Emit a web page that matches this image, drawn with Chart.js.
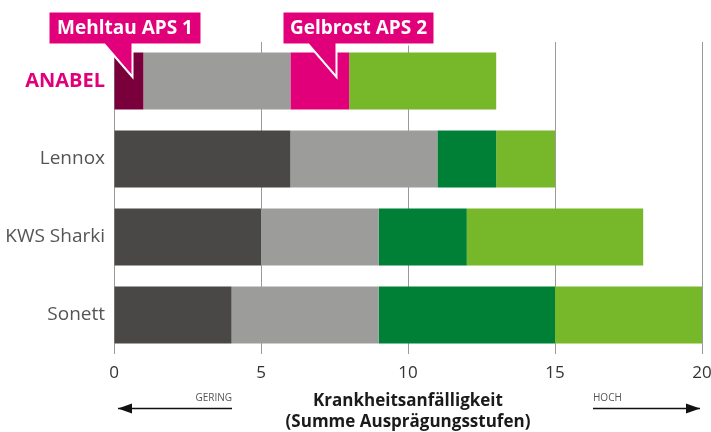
<!DOCTYPE html>
<html>
<head>
<meta charset="utf-8">
<script src="https://cdn.jsdelivr.net/npm/chart.js@4"></script>
<style>
  html, body { margin: 0; padding: 0; background: #fff; }
  #wrap { width: 711px; height: 432px; }
</style>
</head>
<body>
<div id="wrap"><canvas id="chart" width="711" height="432"></canvas></div>
<script>
// Sorten und Ausprägungsstufen je Krankheit
const sorten = ["ANABEL", "Lennox", "KWS Sharki", "Sonett"];
const mehltau = [1, 6, 5, 4];
const septoria = [5, 5, 4, 5];
const gelbrost = [2, 2, 3, 6];
const braunrost = [5, 2, 6, 5];
const xTicks = [0, 5, 10, 15, 20];

const MAGENTA = "#e2007a";
const DARK_MAGENTA = "#7a003c";
const DARK_GRAY = "#494846";
const LIGHT_GRAY = "#9c9d9b";
const DARK_GREEN = "#007f36";
const LIGHT_GREEN = "#77b82a";

// Hinweis-Kästchen über der ANABEL-Zeile
const callouts = [
    { text: "Mehltau APS 1", value: 0.6, left: 84, right: 69 },
    { text: "Gelbrost APS 2", value: 7.55, left: 54, right: 98 }
];

const calloutPlugin = {
    id: "callouts",
    afterDatasetsDraw(chart) {
        const ctx = chart.ctx;
        const x = chart.scales.x;
        const bar = chart.getDatasetMeta(0).data[0];
        const barTop = bar.y - bar.height / 2;
        callouts.forEach(c => {
            const tipX = Math.round(x.getPixelForValue(c.value)) + 0.5;
            const tipY = bar.y - 4;
            const bx = tipX - c.left, bw = c.left + c.right;
            const by = barTop - 41, bb = barTop - 8;
            ctx.save();
            ctx.beginPath();
            ctx.moveTo(bx, by);
            ctx.lineTo(bx + bw, by);
            ctx.lineTo(bx + bw, bb);
            ctx.lineTo(tipX, bb);
            ctx.lineTo(tipX, tipY);
            ctx.lineTo(tipX - 28, bb);
            ctx.lineTo(bx, bb);
            ctx.closePath();
            ctx.fillStyle = MAGENTA;
            ctx.fill();
            ctx.strokeStyle = "#fff";
            ctx.lineWidth = 2;
            ctx.stroke();
            ctx.fillStyle = "#fff";
            ctx.font = "bold 19px 'Open Sans'";
            ctx.textAlign = "center";
            ctx.textBaseline = "middle";
            ctx.fillText(c.text, bx + bw / 2, (by + bb) / 2 + 1);
            ctx.restore();
        });
    }
};

// Pfeile GERING / HOCH unter der Achse
const arrowPlugin = {
    id: "arrows",
    afterDraw(chart) {
        const ctx = chart.ctx;
        const a = chart.chartArea;
        const y = 408.5;
        ctx.save();
        ctx.strokeStyle = "#111";
        ctx.fillStyle = "#111";
        ctx.lineWidth = 1.5;
        function arrow(x1, x2, dir) {
            ctx.beginPath();
            ctx.moveTo(x1, y);
            ctx.lineTo(x2, y);
            ctx.stroke();
            const tip = dir < 0 ? x1 : x2;
            ctx.beginPath();
            ctx.moveTo(tip, y);
            ctx.lineTo(tip - dir * 14, y - 5);
            ctx.lineTo(tip - dir * 14, y + 5);
            ctx.closePath();
            ctx.fill();
        }
        arrow(a.left + 4, a.left + 118, -1);
        arrow(a.right - 109, a.right - 2, 1);
        ctx.fillStyle = "#555";
        ctx.font = "10px 'Open Sans'";
        ctx.textBaseline = "alphabetic";
        ctx.textAlign = "right";
        ctx.fillText("GERING", a.left + 118, 401);
        ctx.textAlign = "left";
        ctx.fillText("HOCH", a.right - 109, 401);
        ctx.restore();
    }
};

function ds(label, data, colors) {
    return {
        label: label,
        data: data,
        backgroundColor: colors,
        borderWidth: 0,
        barPercentage: 0.73,
        categoryPercentage: 1
    };
}

new Chart(document.getElementById("chart"), {
    type: "bar",
    data: {
        labels: sorten,
        datasets: [
            ds("Mehltau", mehltau, [DARK_MAGENTA, DARK_GRAY, DARK_GRAY, DARK_GRAY]),
            ds("Septoria", septoria, LIGHT_GRAY),
            ds("Gelbrost", gelbrost, [MAGENTA, DARK_GREEN, DARK_GREEN, DARK_GREEN]),
            ds("Braunrost", braunrost, LIGHT_GREEN)
        ]
    },
    options: {
        indexAxis: "y",
        responsive: false,
        animation: false,
        layout: { padding: { top: 42, bottom: 0, left: 0, right: 9 } },
        plugins: {
            legend: { display: false },
            tooltip: { enabled: false }
        },
        scales: {
            x: {
                stacked: true,
                min: 0,
                max: 20,
                afterBuildTicks: scale => { scale.ticks = xTicks.map(v => ({ value: v })); },
                afterFit: scale => {
                    scale.height = 78;
                    scale.paddingLeft = 0;
                    scale.paddingRight = 0;
                },
                grid: { color: "#9a9a9a", lineWidth: 1, drawTicks: false },
                border: { display: false },
                ticks: {
                    padding: 9,
                    color: "#333",
                    font: { family: "'Open Sans'", size: 17 }
                },
                title: {
                    display: true,
                    text: ["Krankheitsanfälligkeit", "(Summe Ausprägungsstufen)"],
                    color: "#1a1a1a",
                    font: { family: "'Open Sans'", size: 17, weight: "bold", lineHeight: 1.2 },
                    padding: { top: 4, bottom: 0 }
                }
            },
            y: {
                stacked: true,
                afterFit: scale => { scale.width = 114; },
                grid: { display: false, drawTicks: false },
                border: { display: false },
                ticks: {
                    padding: 9,
                    color: ctx => ctx.index === 0 ? MAGENTA : "#555",
                    font: ctx => ctx.index === 0
                        ? { family: "'Open Sans'", size: 20, weight: "bold" }
                        : { family: "'Open Sans'", size: 19 }
                }
            }
        }
    },
    plugins: [calloutPlugin, arrowPlugin]
});
</script>
</body>
</html>
